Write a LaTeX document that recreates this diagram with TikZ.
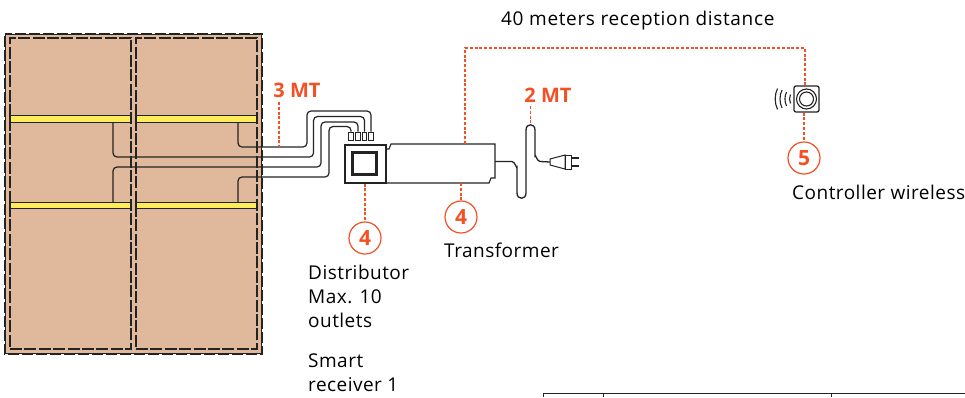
\documentclass[tikz,border=0pt]{standalone}
\usepackage{fontspec}
\setmainfont{Open Sans}
\definecolor{wood}{RGB}{224,184,155}
\definecolor{lead}{RGB}{245,80,35}
\definecolor{strip}{RGB}{255,236,90}
\definecolor{ink}{RGB}{35,35,35}
\begin{document}
\begin{tikzpicture}[x=1pt, y=-1pt,
    panel/.style={draw=ink, fill=wood, line width=1.1pt, dash pattern=on 12pt off 2.4pt, minimum width=121pt, minimum height=311pt, inner sep=0pt},
    ledstrip/.style={draw=ink, fill=strip, line width=1.2pt, minimum width=121pt, minimum height=6.5pt, inner sep=0pt},
    wire/.style={draw=ink, line width=1.2pt, rounded corners=4pt},
    lead line/.style={draw=lead, line width=1.05pt, dash pattern=on 3pt off 1.8pt},
    badge/.style={draw=lead, circle, line width=1.2pt, minimum size=32pt, inner sep=0pt, text=lead, font=\fontsize{21}{21}\selectfont\bfseries},
    length/.style={text=lead, inner sep=0pt, font=\fontsize{20}{20}\selectfont\bfseries},
    caption/.style={inner sep=0pt, anchor=base west, font=\fontsize{19}{19}\selectfont\addfontfeatures{LetterSpace=2.5}},
    pin/.style={draw=ink, fill=white, line width=0.9pt, minimum width=4.4pt, minimum height=8pt, inner sep=0pt}]
    \useasboundingbox (0,0) rectangle (965,397);

    % Board
    \node[fill=wood, draw=ink, line width=1.1pt, minimum width=257pt, minimum height=320pt, inner sep=0pt] (board) at (133.5,194) {};
    \draw[white, line width=1.5pt, dash pattern=on 3pt off 11pt] (board.north west) rectangle (board.south east);
    \node[panel] (panela) at (70.5,193.5) {};
    \node[panel] (panelb) at (196.5,193.5) {};

    % Strips
    \node[ledstrip] (stripa) at (70.5,119) {};
    \node[ledstrip] (stripb) at (196.5,119) {};
    \node[ledstrip] (stripc) at (70.5,205.5) {};
    \node[ledstrip] (stripd) at (196.5,205.5) {};

    % Distributor
    \node[draw=ink, fill=white, line width=2pt, minimum width=41pt, minimum height=38pt, inner sep=0pt] (dist) at (365,163.5) {};
    \node[draw=ink, fill=white, line width=3pt, minimum width=24pt, minimum height=22pt, inner sep=0pt] (screen) at (364.5,163.5) {};
    \node[pin] (pina) at (351,136) {};
    \node[pin] (pinb) at (358,136) {};
    \node[pin] (pinc) at (364.5,136) {};
    \node[pin] (pind) at (371,136) {};

    % Wires to the distributor
    \draw[wire] (238,122.3) -- (238,147) -- (307,147) -- (307,111) -- (371,111) -- (pind.north);
    \draw[wire] (113,122.3) -- (113,157) -- (313.5,157) -- (313.5,116.5) -- (364.5,116.5) -- (pinc.north);
    \draw[wire] (113,202.2) -- (113,167) -- (321,167) -- (321,122) -- (358,122) -- (pinb.north);
    \draw[wire] (238,202.2) -- (238,177) -- (329,177) -- (329,126.5) -- (351,126.5) -- (pina.north);

    % Transformer
    \draw[draw=ink, line width=1.1pt] (386,149) -- (389,149) -- (391,144) -- (495,144) -- (495,178) -- (491,178) -- (489,183) -- (386,183);
    \coordinate (trtop) at (465,144);
    \coordinate (trbot) at (461,183);
    \coordinate (trout) at (495,161.5);
    \coordinate (looptop) at (530.5,125);

    % Cord and plug
    \draw[draw=ink, line width=1.3pt] (trout) -- (512,161.5) to[out=0, in=-90] (517,167) -- (517,193);
    \draw[draw=ink, line width=1.3pt] (517,193) .. controls (517,200) and (526,200) .. (526,193) -- (526,130) .. controls (526,123) and (535,123) .. (535,130) -- (535,156) to[out=90, in=180] (540,161.5) -- (550,162);
    \draw[draw=ink, fill=white, line width=1pt] (550,159) -- (565,155) -- (565,169) -- (550,165) -- cycle;
    \draw[draw=ink, fill=white, line width=1pt] (565,155) rectangle (571,169);
    \draw[draw=ink, line width=1.8pt] (571,157.7) -- (579,157.7);
    \draw[draw=ink, line width=1.8pt] (571,165.7) -- (579,165.7);

    % Controller
    \node[draw=ink, fill=white, line width=1.3pt, rounded corners=2pt, minimum width=25pt, minimum height=26pt, inner sep=0pt] (ctrl) at (806.5,99) {};
    \draw[draw=ink, line width=1.1pt] (806.5,99) circle[radius=10pt];
    \draw[draw=ink, line width=1.1pt] (806.5,99) circle[radius=7pt];
    \draw[draw=ink, line width=1.1pt] (790.5,94.5) arc[start angle=155, end angle=205, radius=10.6pt];
    \draw[draw=ink, line width=1.1pt] (786.5,92) arc[start angle=155, end angle=205, radius=16.5pt];
    \draw[draw=ink, line width=1.1pt] (782,90) arc[start angle=155, end angle=205, radius=21.3pt];
    \draw[draw=ink, line width=1.1pt] (777.5,88.5) arc[start angle=155, end angle=205, radius=24.8pt];

    % Badges
    \node[badge] (numdist) at (365,238) {4};
    \node[badge] (numtr) at (461,217) {4};
    \node[badge] (numctrl) at (804,158) {5};

    % Lengths
    \node[length] (lena) at (297,90) {3 MT};
    \node[length] (lenb) at (548,95) {2 MT};
    \coordinate (lenaend) at (279,147);

    % Dotted leads
    \draw[lead line] (dist.south) -- (numdist);
    \draw[lead line] (trbot) -- (numtr);
    \draw[lead line] (ctrl.south -| numctrl) -- (numctrl);
    \draw[lead line] (279,102) -- (lenaend);
    \draw[lead line] (530.5,106) -- (looptop);
    \draw[lead line] (trtop) -- (465,48) -- (805,48) -- (ctrl.north -| 805,48);

    % Captions
    \node[caption] (reach) at (501,25) {\addfontfeatures{LetterSpace=3.5}40 meters reception distance};
    \node[caption] (capctrl) at (792,199) {Controller wireless};
    \node[caption] (captr) at (444,257) {Transformer};
    \node[caption] (capa) at (308,279) {Distributor};
    \node[caption] (capb) at (308,303) {Max. 10};
    \node[caption] (capc) at (308,327) {outlets};
    \node[caption] (capd) at (308,367) {Smart};
    \node[caption] (cape) at (308,391) {receiver 1};

    % Table below
    \draw[draw=ink, line width=1pt] (543,397) -- (543,393.5) -- (965,393.5);
    \draw[draw=ink, line width=1pt] (603,393.5) -- (603,397);
    \draw[draw=ink, line width=1pt] (831,393.5) -- (831,397);
\end{tikzpicture}
\end{document}
